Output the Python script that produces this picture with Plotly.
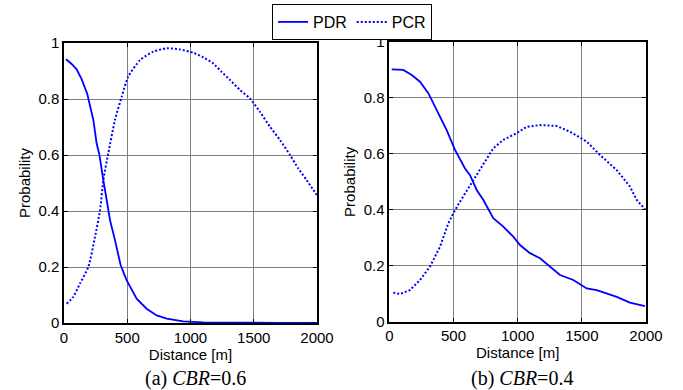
import plotly.graph_objects as go

# (a) CBR = 0.6
a_pdr_d = [16, 60, 100, 140, 184, 232, 258, 279, 311, 364, 403, 448, 495, 574, 653, 733, 812, 943, 1100, 1300, 1500, 1700, 2000]
a_pdr_p = [0.942, 0.925, 0.906, 0.87, 0.818, 0.725, 0.641, 0.603, 0.51, 0.367, 0.296, 0.206, 0.153, 0.087, 0.051, 0.027, 0.016, 0.006, 0.002, 0.001, 0.0005, 0.0003, 0.0002]
a_pcr_d = [21, 73, 126, 192, 245, 285, 311, 350, 403, 456, 508, 601, 706, 812, 917, 1022, 1101, 1180, 1246, 1312, 1391, 1470, 1549, 1628, 1708, 1787, 1852, 1919, 1998]
a_pcr_p = [0.069, 0.093, 0.141, 0.2, 0.307, 0.403, 0.51, 0.606, 0.725, 0.808, 0.88, 0.939, 0.969, 0.981, 0.977, 0.965, 0.949, 0.927, 0.897, 0.868, 0.832, 0.802, 0.754, 0.701, 0.653, 0.6, 0.552, 0.51, 0.457]

# (b) CBR = 0.4
b_pdr_d = [19, 109, 175, 239, 304, 369, 447, 512, 590, 629, 681, 733, 772, 810, 888, 966, 1018, 1096, 1174, 1252, 1330, 1434, 1538, 1616, 1694, 1772, 1875, 1992]
b_pdr_p = [0.902, 0.9, 0.882, 0.858, 0.817, 0.757, 0.685, 0.614, 0.548, 0.524, 0.471, 0.435, 0.4, 0.37, 0.34, 0.304, 0.274, 0.245, 0.227, 0.197, 0.167, 0.149, 0.119, 0.113, 0.102, 0.089, 0.068, 0.056]
b_pcr_d = [31, 83, 161, 239, 317, 395, 460, 512, 572, 655, 733, 810, 888, 993, 1071, 1174, 1304, 1408, 1538, 1642, 1772, 1875, 1928, 1992]
b_pcr_p = [0.104, 0.099, 0.113, 0.149, 0.197, 0.268, 0.352, 0.399, 0.445, 0.507, 0.566, 0.62, 0.65, 0.674, 0.697, 0.703, 0.7, 0.679, 0.644, 0.596, 0.542, 0.483, 0.435, 0.402]

x_ticks = [0, 500, 1000, 1500, 2000]
y_ticks = [0, 0.2, 0.4, 0.6, 0.8, 1]
y_tick_text = ["0", "0.2", "0.4", "0.6", "0.8", "1"]
captions = ["(a) <i>CBR</i>=0.6", "(b) <i>CBR</i>=0.4"]

blue = "#0000FF"
DOT = "2px,2px"
fig = go.Figure()
fig.add_trace(go.Scatter(x=a_pdr_d, y=a_pdr_p, mode="lines", name="PDR",
                         line=dict(color=blue, width=1.8), xaxis="x", yaxis="y"))
fig.add_trace(go.Scatter(x=a_pcr_d, y=a_pcr_p, mode="lines", name="PCR",
                         line=dict(color=blue, width=2, dash=DOT, shape="spline", smoothing=0.6),
                         xaxis="x", yaxis="y"))
fig.add_trace(go.Scatter(x=b_pdr_d, y=b_pdr_p, mode="lines", name="PDR", showlegend=False,
                         line=dict(color=blue, width=1.8), xaxis="x2", yaxis="y2"))
fig.add_trace(go.Scatter(x=b_pcr_d, y=b_pcr_p, mode="lines", name="PCR", showlegend=False,
                         line=dict(color=blue, width=2, dash=DOT), xaxis="x2", yaxis="y2"))

W, H = 683, 390
def xd(a, b):
    return [a / W, b / W]
def yd(top, bot):
    return [1 - bot / H, 1 - top / H]

FONT = "Liberation Sans, Arial"
axis_common = dict(showgrid=True, gridcolor="#808080", gridwidth=1, showline=True,
                   linecolor="black", linewidth=1.5, mirror="ticks", ticks="inside",
                   ticklen=4, tickcolor="black", zeroline=False, automargin=False,
                   tickfont=dict(family=FONT, size=15, color="black"))

fig.update_layout(
    width=W, height=H, margin=dict(l=0, r=0, t=0, b=0),
    paper_bgcolor="white", plot_bgcolor="white",
    font=dict(family=FONT, color="black"),
    xaxis=dict(domain=xd(64, 317), range=[0, 2000], tickvals=x_ticks, anchor="y",
               title=dict(text="Distance [m]", font=dict(size=15), standoff=0), **axis_common),
    yaxis=dict(domain=yd(43, 323), range=[0, 1], tickvals=y_ticks, ticktext=y_tick_text, anchor="x",
               title=dict(text="Probability", font=dict(size=15), standoff=4), **axis_common),
    xaxis2=dict(domain=xd(389.3, 646), range=[0, 2000], tickvals=x_ticks, anchor="y2",
                title=dict(text="Distance [m]", font=dict(size=15), standoff=0), **axis_common),
    yaxis2=dict(domain=yd(42, 321.7), range=[0, 1], tickvals=y_ticks, ticktext=y_tick_text, anchor="x2",
                title=dict(text="Probability", font=dict(size=15), standoff=4), **axis_common),
    legend=dict(orientation="h", x=352 / W, y=1 - 4 / H, xanchor="center", yanchor="top",
                bordercolor="black", borderwidth=1, bgcolor="white",
                font=dict(size=16, family=FONT), itemwidth=30,
                tracegroupgap=0),
    showlegend=True,
)

for i, cx in enumerate([195, 522]):
    fig.add_annotation(text=captions[i], x=cx / W, y=1 - 378 / H, xref="paper", yref="paper",
                       showarrow=False, xanchor="center", yanchor="middle",
                       font=dict(family="Liberation Serif, Times New Roman", size=20, color="black"))

fig.write_html("out.html", config={"displayModeBar": False},
               post_script="document.body.style.margin='0';document.body.style.overflow='hidden';")
